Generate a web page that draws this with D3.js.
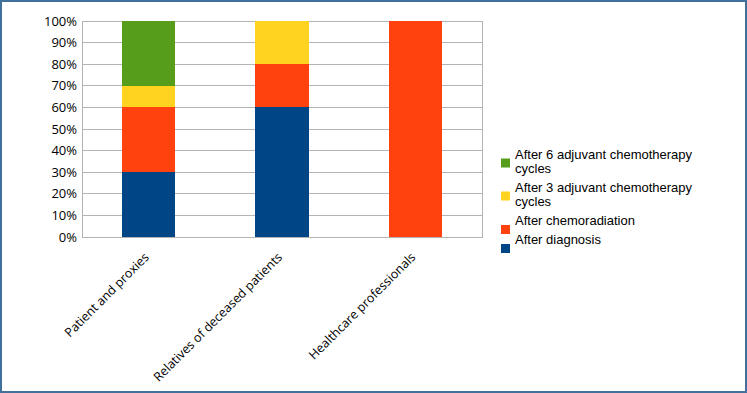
<!DOCTYPE html>
<html>
<head>
<meta charset="utf-8">
<script src="https://cdn.jsdelivr.net/npm/d3@7"></script>
<style>
  html, body { margin: 0; padding: 0; background: #fff; }
  svg { display: block; font-family: "Open Sans", sans-serif; }
</style>
</head>
<body>
<svg id="chart" width="747" height="393"></svg>
<script>
// categories and stacked series (share of each group, %)
const categories = ["Patient and proxies", "Relatives of deceased patients", "Healthcare professionals"];
const seriesNames = ["After diagnosis", "After chemoradiation", "After 3 adjuvant chemotherapy cycles", "After 6 adjuvant chemotherapy cycles"];
const afterDiagnosis = [30, 60, 0];
const afterChemoradiation = [30, 20, 100];
const after3Cycles = [10, 20, 0];
const after6Cycles = [30, 0, 0];
const seriesColors = ["#004586", "#ff420e", "#ffd320", "#579d1c"];
const yTicks = [0, 10, 20, 30, 40, 50, 60, 70, 80, 90, 100];

const W = 747, H = 393;
const margin = { top: 21, left: 82, right: 265, bottom: 156 };
const plotW = W - margin.left - margin.right;
const plotH = H - margin.top - margin.bottom;

const svg = d3.select("#chart");

// outer frame
svg.append("rect")
  .attr("x", 1).attr("y", 1)
  .attr("width", W - 2).attr("height", H - 2)
  .attr("fill", "#fff")
  .attr("stroke", "#41709c")
  .attr("stroke-width", 2);

const g = svg.append("g").attr("transform", `translate(${margin.left},${margin.top})`);

const x = d3.scaleBand().domain(categories).range([0, plotW]).paddingInner(0.6).paddingOuter(0.3);
const y = d3.scaleLinear().domain([0, 100]).range([plotH, 0]);

// grid lines
g.selectAll(".grid")
  .data(yTicks)
  .enter().append("line")
  .attr("x1", 0).attr("x2", plotW)
  .attr("y1", d => y(d)).attr("y2", d => y(d))
  .attr("stroke", "#b3b3b3")
  .attr("stroke-width", 1)
  .attr("shape-rendering", "crispEdges");

// plot box
g.append("rect")
  .attr("width", plotW).attr("height", plotH)
  .attr("fill", "none")
  .attr("stroke", "#b3b3b3")
  .attr("shape-rendering", "crispEdges");

// stack
const rows = categories.map((c, i) => ({
  cat: c,
  "After diagnosis": afterDiagnosis[i],
  "After chemoradiation": afterChemoradiation[i],
  "After 3 adjuvant chemotherapy cycles": after3Cycles[i],
  "After 6 adjuvant chemotherapy cycles": after6Cycles[i]
}));
const stacked = d3.stack().keys(seriesNames)(rows);

g.selectAll(".series")
  .data(stacked)
  .enter().append("g")
  .attr("fill", (d, i) => seriesColors[i])
  .selectAll("rect")
  .data(d => d)
  .enter().append("rect")
  .attr("x", d => x(d.data.cat))
  .attr("width", x.bandwidth())
  .attr("y", d => y(d[1]))
  .attr("height", d => y(d[0]) - y(d[1]))
  .attr("shape-rendering", "crispEdges");

// y axis labels
const yAxis = g.append("g")
  .call(d3.axisLeft(y).tickValues(yTicks).tickSize(0).tickPadding(5).tickFormat(d => d + "%"));
yAxis.select(".domain").remove();
yAxis.selectAll("text")
  .style("font-family", "Open Sans, sans-serif")
  .style("font-size", "13px")
  .attr("fill", "#000");

// x axis labels, rotated
const xAxis = g.append("g")
  .attr("transform", `translate(0,${plotH})`)
  .call(d3.axisBottom(x).tickSize(0).tickPadding(0));
xAxis.select(".domain").remove();
xAxis.selectAll("text")
  .style("font-family", "Open Sans, sans-serif")
  .style("font-size", "12.5px")
  .attr("fill", "#000")
  .attr("text-anchor", "end")
  .attr("dy", "0")
  .attr("transform", "translate(1,21) rotate(-45)");

// legend (wrapped lines, top item first)
const legendItems = [
  { lines: ["After 6 adjuvant chemotherapy", "cycles"], color: seriesColors[3] },
  { lines: ["After 3 adjuvant chemotherapy", "cycles"], color: seriesColors[2] },
  { lines: ["After chemoradiation"], color: seriesColors[1] },
  { lines: ["After diagnosis"], color: seriesColors[0] }
];
const legendBase = [158.5, 191.5, 225, 244];
const legend = svg.append("g");
legendItems.forEach((item, i) => {
  const base = legendBase[i];
  legend.append("rect")
    .attr("x", 501).attr("y", base)
    .attr("width", 9).attr("height", 9)
    .attr("fill", item.color);
  item.lines.forEach((ln, k) => {
    legend.append("text")
      .attr("x", 515)
      .attr("y", base + k * 14.6)
      .style("font-family", "Liberation Sans, Arial, sans-serif")
      .style("font-size", "13px")
      .attr("fill", "#000")
      .text(ln);
  });
});
</script>
</body>
</html>
